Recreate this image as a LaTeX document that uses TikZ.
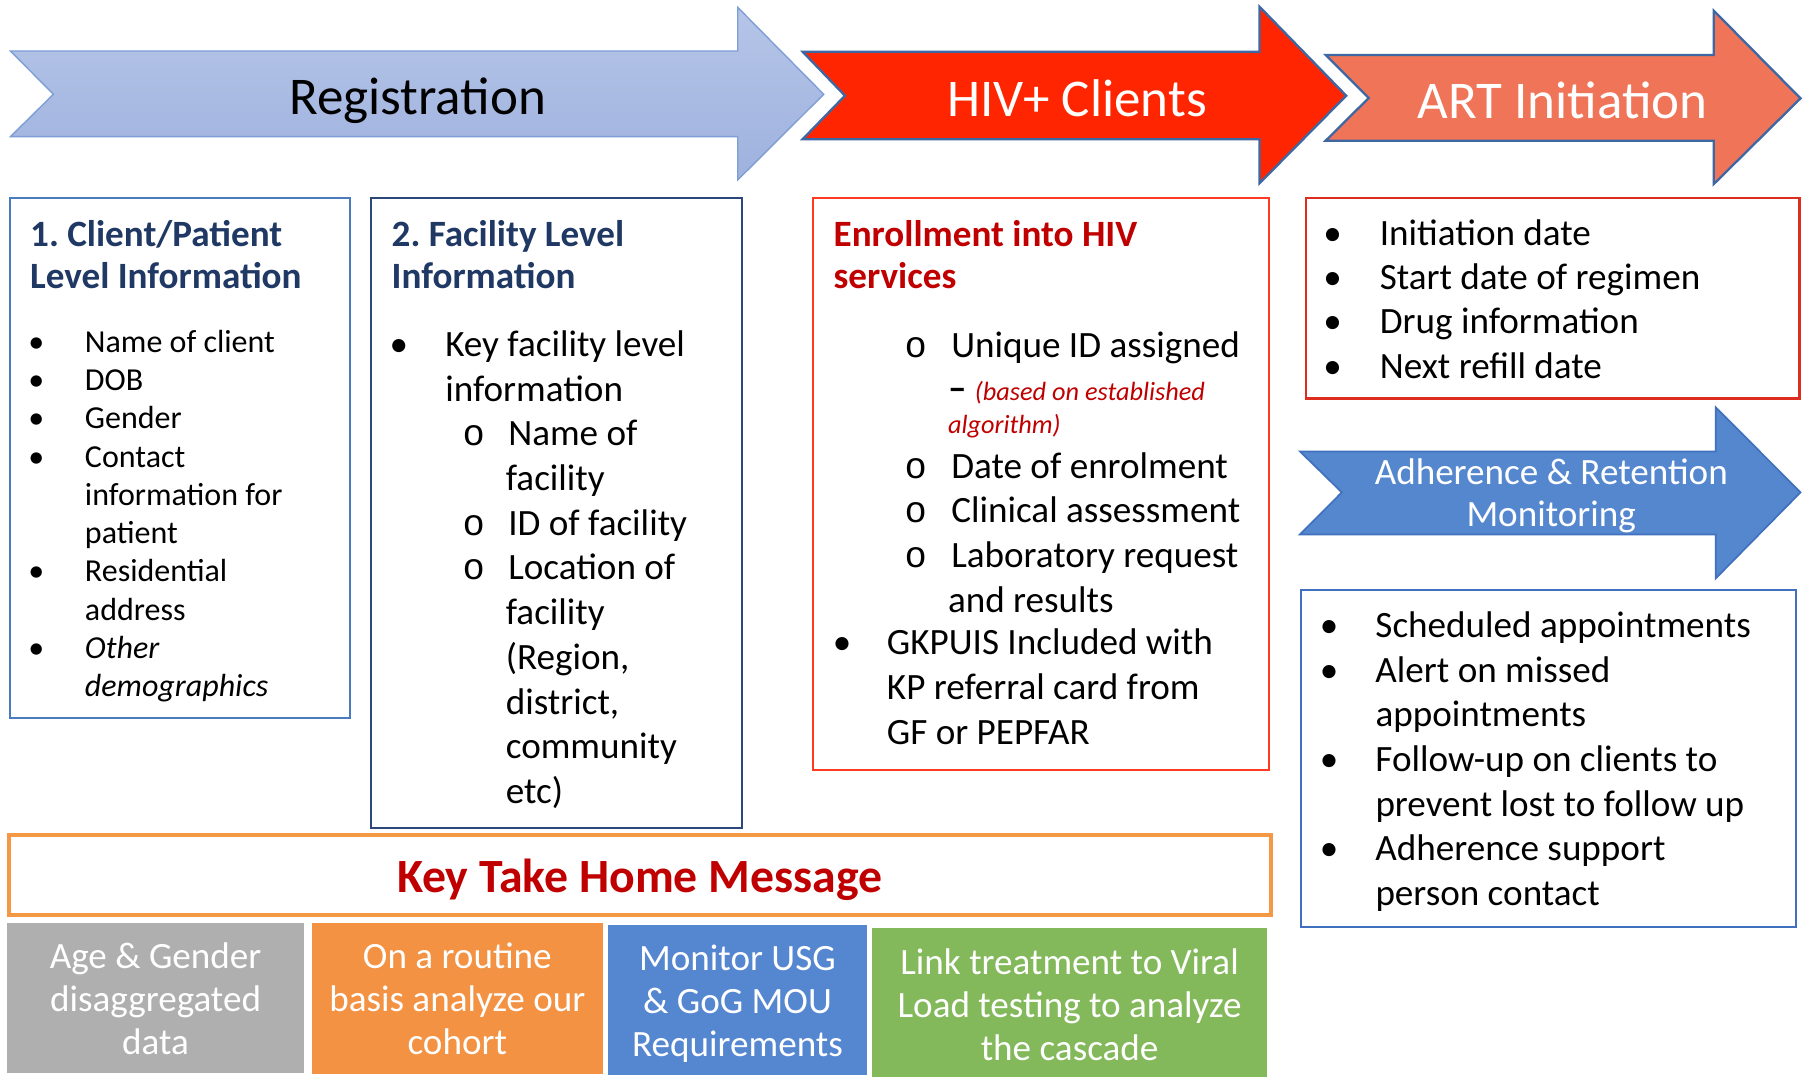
\documentclass[tikz,border=0pt]{standalone}
\usepackage{fontspec}
\setmainfont{Carlito}
\newfontfamily\ringfont{Liberation Mono}
\usepackage{tikz}
\usetikzlibrary{positioning}
\usepackage{xcolor}
\definecolor{regtop}{RGB}{182,197,232}
\definecolor{regbottom}{RGB}{158,178,222}
\definecolor{regedge}{RGB}{126,158,214}
\definecolor{arrowedge}{RGB}{62,104,164}
\definecolor{hivred}{RGB}{255,37,0}
\definecolor{artsalmon}{RGB}{240,116,88}
\definecolor{adhblue}{RGB}{85,135,206}
\definecolor{adhedge}{RGB}{65,113,190}
\definecolor{clientblue}{RGB}{74,122,192}
\definecolor{facilitynavy}{RGB}{44,72,122}
\definecolor{enrolred}{RGB}{255,59,35}
\definecolor{artred}{RGB}{220,45,30}
\definecolor{titleblue}{RGB}{31,56,100}
\definecolor{darkred}{RGB}{192,0,0}
\definecolor{keyorange}{RGB}{245,152,70}
\definecolor{cellgray}{RGB}{175,175,175}
\definecolor{cellorange}{RGB}{242,146,66}
\definecolor{cellblue}{RGB}{85,134,208}
\definecolor{cellgreen}{RGB}{131,185,90}
% fonts
\newcommand{\arrowfont}{\fontsize{46}{55}\selectfont}
\newcommand{\headfont}{\fontsize{32.2}{36.5}\selectfont\bfseries}
\newcommand{\listfont}{\fontsize{32.2}{38.8}\selectfont}
\newcommand{\clientfont}{\fontsize{27.75}{33.2}\selectfont}
\newcommand{\notefont}{\fontsize{22.8}{29}\selectfont\itshape}
\newcommand{\keyfont}{\fontsize{41.4}{50}\selectfont\bfseries}
\newcommand{\cellfont}{\fontsize{32.2}{37.5}\selectfont}
% list marks
\newcommand{\dotitem}[1]{\makebox[#1][l]{\textbullet}}
\newcommand{\ringitem}[2]{\hspace*{#1}\makebox[#2][l]{\ringfont o}}
\tikzstyle{flowarrow} = [line width=2pt, line join=miter, draw=arrowedge]
\tikzstyle{infobox} = [rectangle, anchor=north west, inner sep=0pt, outer sep=0pt, line width=2pt, fill=white]
\tikzstyle{cellbox} = [rectangle, anchor=north west, inner sep=0pt, outer sep=0pt]
\tikzstyle{arrowlabel} = [anchor=base, inner sep=0pt, font=\arrowfont, text=white]
\tikzstyle{headtext} = [anchor=base west, inner sep=0pt, align=flush left, text width=300pt, font=\headfont]
\tikzstyle{listtext} = [anchor=base west, inner sep=0pt, align=flush left, text width=410pt, font=\listfont]
\tikzstyle{celltext} = [anchor=base, inner sep=0pt, align=flush center, text width=340pt, font=\cellfont, text=white]
\frenchspacing

\begin{document}
\begin{tikzpicture}[x=1pt, y=-1pt]
\useasboundingbox (0,0) rectangle (1568,934);
\fill[white] (0,0) rectangle (1568,934);

% Flow arrows
\draw[flowarrow, draw=regedge, line width=1.2pt, top color=regtop, bottom color=regbottom]
  (9,44.2) -- (639.8,44.2) -- (639.8,6.4) -- (714.4,81.8) -- (639.8,156.1) -- (639.8,118.5) -- (9,118.5) -- (46.3,81.8) -- cycle;
\draw[flowarrow, fill=hivred]
  (696,44.8) -- (1092.3,44.8) -- (1092.3,5.8) -- (1167.5,83) -- (1092.3,159) -- (1092.3,120.8) -- (696,120.8) -- (732.8,83) -- cycle;
\draw[flowarrow, fill=artsalmon]
  (1149.7,47.7) -- (1486.3,47.7) -- (1486.3,9.3) -- (1561.5,85.3) -- (1486.3,159.6) -- (1486.3,122) -- (1149.7,122) -- (1187,85) -- cycle;
\draw[flowarrow, draw=adhedge, line width=1.5pt, fill=adhblue]
  (1127.4,391.5) -- (1488,391.5) -- (1488,353.3) -- (1561.5,427) -- (1488,501.6) -- (1488,463.5) -- (1127.4,463.5) -- (1163.7,427) -- cycle;

\node[arrowlabel, text=black] (registration) at (362.2,99.7) {Registration};
\node[arrowlabel] (hivclients) at (934,101.2) {HIV+ Clients};
\node[arrowlabel] (artinit) at (1355,103.2) {ART Initiation};
\node[arrowlabel, font=\listfont, text width=400pt, align=flush center] (adherence) at (1345.3,420.3)
  {Adherence \& Retention\\[-2.2pt]Monitoring};

% Information boxes
\node[infobox, draw=clientblue, minimum width=295pt, minimum height=451pt] (clientbox) at (8.5,171.5) {};
\node[infobox, draw=facilitynavy, minimum width=321.7pt, minimum height=546.8pt] (facilitybox) at (321.5,171.5) {};
\node[infobox, draw=enrolred, minimum width=395.6pt, minimum height=496.1pt] (enrolbox) at (705,171.5) {};
\node[infobox, draw=artred, minimum width=428.1pt, minimum height=174.1pt] (artbox) at (1132.4,171.6) {};
\node[infobox, draw=adhedge, minimum width=429pt, minimum height=292.5pt] (adhbox) at (1128.4,511.5) {};

% Client level
\node[headtext, text=titleblue] (clienthead) at (26,213.4) {1. Client/Patient\\Level Information};
\node[listtext, font=\clientfont] (clientlist) at (24.5,305.5) {%
\dotitem{49pt}Name of client\\
\dotitem{49pt}DOB\\
\dotitem{49pt}Gender\\
\dotitem{49pt}Contact\\
\hspace*{49pt}information for\\
\hspace*{49pt}patient\\
\dotitem{49pt}Residential\\
\hspace*{49pt}address\\
\dotitem{49pt}\textit{Other}\\
\hspace*{49pt}\textit{demographics}};

% Facility level
\node[headtext, text=titleblue] (facilityhead) at (339.5,213.4) {2. Facility Level\\Information};
\node[listtext] (facilitylist) at (337.6,309) {%
\dotitem{48.4pt}Key facility level\\
\hspace*{48.4pt}information\\
\ringitem{63.4pt}{39.6pt}Name of\\
\hspace*{100.9pt}facility\\
\ringitem{63.4pt}{39.6pt}ID of facility\\
\ringitem{63.4pt}{39.6pt}Location of\\
\hspace*{100.9pt}facility\\
\hspace*{100.9pt}(Region,\\
\hspace*{100.9pt}district,\\
\hspace*{100.9pt}community\\
\hspace*{100.9pt}etc)};

% Enrollment
\node[headtext, text=darkred] (enrolhead) at (722.8,213.4) {Enrollment into HIV\\services};
\node[listtext] (enrollist) at (722,310.2) {%
\ringitem{62.3pt}{40.5pt}Unique ID assigned\\[-1.5pt]
\hspace*{100pt}\textbf{–} {\notefont\color{darkred}(based on established}\\[-10pt]
\hspace*{100pt}{\notefont\color{darkred}algorithm)}\\[-0.5pt]
\ringitem{62.3pt}{40.5pt}Date of enrolment\\
\ringitem{62.3pt}{40.5pt}Clinical assessment\\
\ringitem{62.3pt}{40.5pt}Laboratory request\\
\hspace*{100pt}and results\\[-2pt]
\dotitem{47pt}GKPUIS Included with\\
\hspace*{47pt}KP referral card from\\
\hspace*{47pt}GF or PEPFAR};

% ART initiation
\node[listtext, font=\fontsize{32.2}{38.5}\selectfont] (artlist) at (1147.5,212.5) {%
\dotitem{49pt}Initiation date\\
\dotitem{49pt}Start date of regimen\\
\dotitem{49pt}Drug information\\
\dotitem{49pt}Next refill date};

% Adherence
\node[listtext, font=\fontsize{32.2}{38.7}\selectfont] (adhlist) at (1144.4,553) {%
\dotitem{48.3pt}Scheduled appointments\\
\dotitem{48.3pt}Alert on missed\\
\hspace*{48.3pt}appointments\\
\dotitem{48.3pt}Follow-up on clients to\\
\hspace*{48.3pt}prevent lost to follow up\\
\dotitem{48.3pt}Adherence support\\
\hspace*{48.3pt}person contact};

% Key take home message
\node[infobox, draw=keyorange, line width=3.5pt, minimum width=1094.5pt, minimum height=69.3pt] (keybox) at (7.5,724) {};
\node[anchor=base, inner sep=0pt, font=\keyfont, text=darkred] (keytext) at (554.8,774.2) {Key Take Home Message};

\node[cellbox, fill=cellgray, minimum width=258.2pt, minimum height=130.1pt] (agecell) at (5.8,800.8) {};
\node[cellbox, fill=cellorange, minimum width=252.4pt, minimum height=131.2pt] (cohortcell) at (270.4,800.3) {};
\node[cellbox, fill=cellblue, minimum width=225.1pt, minimum height=130.1pt] (moucell) at (527.1,801.9) {};
\node[cellbox, fill=cellgreen, minimum width=342.3pt, minimum height=129.3pt] (viralcell) at (756.5,804.5) {};

\node[celltext] (agetext) at (134.9,839.8) {Age \& Gender\\disaggregated\\data};
\node[celltext] (cohorttext) at (396.6,839.8) {On a routine\\basis analyze our\\cohort};
\node[celltext] (moutext) at (639.6,841.5) {Monitor USG\\\& GoG MOU\\Requirements};
\node[celltext] (viraltext) at (927.6,844.7) {Link treatment to Viral\\Load testing to analyze\\the cascade};
\end{tikzpicture}
\end{document}
